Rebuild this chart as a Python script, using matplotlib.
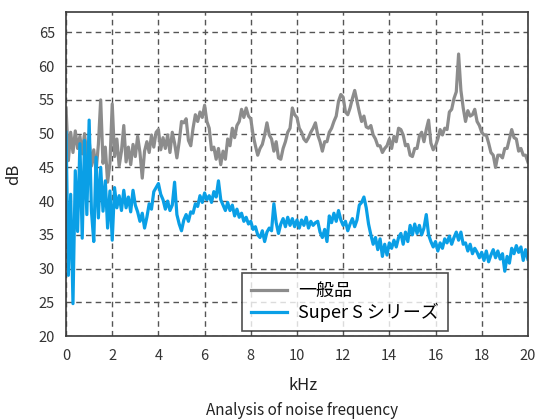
import matplotlib
matplotlib.use("Agg")
import matplotlib.pyplot as plt
import numpy as np

plt.rcParams['font.family'] = ['Noto Sans CJK JP', 'DejaVu Sans']

# 周波数 (kHz), 0.1 kHz 刻み
freq = np.round(np.arange(0, 20.01, 0.1), 1)

# 一般品 (dB)
general = [
    53.8, 46.0, 50.2, 47.2, 50.4, 47.8, 49.6, 47.0, 50.0, 46.8,
    49.0, 45.2, 47.6, 44.4, 48.4, 55.0, 45.6, 48.0, 42.8, 45.6,
    54.4, 46.6, 49.2, 45.2, 47.4, 51.2, 45.8, 48.0, 45.4, 48.4,
    46.6, 49.6, 47.2, 43.4, 47.4, 48.8, 47.2, 49.8, 48.0, 50.2,
    50.6, 47.6, 49.4, 47.8, 49.8, 47.2, 50.2, 48.6, 46.4, 48.8,
    51.8, 51.6, 52.2, 49.0, 48.2, 50.8, 52.8, 51.8, 53.2, 52.4,
    54.2, 51.8, 50.8, 47.6, 48.0, 46.2, 47.8, 45.4, 47.4, 46.2,
    49.2, 48.2, 50.8, 49.4, 51.2, 51.8, 53.6, 52.4, 53.8, 52.6,
    52.2, 49.8, 48.2, 46.8, 47.8, 48.4, 49.8, 51.6, 49.8, 49.2,
    47.4, 48.8, 46.4, 46.2, 47.8, 48.8, 50.2, 50.8, 53.8, 52.8,
    52.4, 50.8, 50.2, 49.2, 48.8, 49.4, 50.2, 50.8, 51.6, 49.8,
    48.8, 47.4, 48.8, 48.8, 50.2, 50.8, 51.8, 52.6, 54.8, 55.8,
    55.4, 53.2, 52.8, 53.8, 55.2, 56.4, 54.8, 53.2, 51.8, 52.6,
    51.0, 50.8, 51.2, 49.8, 49.2, 48.2, 48.2, 47.2, 47.8, 48.2,
    49.2, 47.8, 49.6, 48.8, 50.8, 50.6, 49.8, 48.2, 48.4, 46.8,
    46.6, 47.8, 47.8, 49.6, 50.2, 48.8, 50.6, 52.0, 48.6, 47.6,
    48.2, 49.2, 50.6, 49.8, 50.8, 50.6, 53.2, 53.6, 55.2, 56.2,
    61.8, 56.4, 53.8, 51.8, 53.4, 52.6, 52.8, 53.6, 51.8, 51.2,
    50.2, 49.8, 49.8, 48.6, 47.2, 46.8, 45.0, 46.8, 46.8, 46.4,
    47.8, 47.8, 49.2, 50.6, 49.4, 49.2, 47.4, 47.8, 46.8, 46.8,
    45.8,
]

# Super S シリーズ (dB)
super_s = [
    50.2, 29.0, 41.0, 24.8, 44.5, 35.5, 48.5, 34.5, 49.0, 38.0,
    52.0, 38.5, 34.0, 46.5, 37.5, 45.0, 38.5, 43.0, 36.0, 41.5,
    34.2, 42.0, 39.0, 40.8, 38.6, 41.6, 39.0, 40.6, 38.4, 41.6,
    39.4, 38.4, 37.0, 38.2, 36.0, 37.6, 39.6, 38.8, 41.4, 42.0,
    42.6, 41.0, 40.2, 38.8, 40.0, 38.6, 39.4, 42.8, 38.0, 36.6,
    35.6, 37.2, 38.0, 37.0, 38.4, 38.2, 39.6, 39.2, 40.8, 39.8,
    41.2, 40.2, 40.8, 39.8, 41.4, 40.6, 43.0, 40.2, 39.4, 38.6,
    39.8, 38.6, 39.4, 37.8, 38.8, 37.6, 38.2, 37.0, 37.6, 36.6,
    37.0, 35.8, 36.2, 35.0, 34.6, 35.6, 34.0, 35.4, 36.0, 35.6,
    39.6, 36.8, 35.2, 36.6, 37.4, 36.2, 37.6, 36.4, 37.4, 36.2,
    37.2, 36.0, 37.2, 36.4, 37.6, 36.0, 37.0, 36.4, 36.8, 37.0,
    35.4, 34.6, 35.8, 34.0, 37.8, 36.8, 38.2, 37.0, 38.6, 37.2,
    36.4, 37.0, 35.6, 36.6, 37.4, 36.2, 37.2, 39.4, 39.8, 40.6,
    39.0, 36.6, 35.0, 33.6, 34.6, 32.8, 34.4, 31.8, 33.6, 32.0,
    33.8, 33.0, 34.2, 33.2, 34.6, 35.2, 33.6, 35.4, 34.0, 36.4,
    35.0, 36.6, 35.2, 36.4, 35.0, 36.0, 38.0, 35.0, 34.0, 33.2,
    34.0, 32.6, 33.8, 33.0, 34.4, 33.8, 34.8, 33.6, 34.6, 35.4,
    34.2, 35.4, 33.6, 33.8, 32.6, 33.6, 32.2, 33.0, 32.4, 31.6,
    32.4, 31.2, 32.6, 31.0, 32.0, 32.8, 31.6, 32.6, 31.4, 32.2,
    29.6, 31.8, 30.8, 33.0, 32.2, 33.4, 32.4, 33.2, 31.2, 32.8,
    31.4,
]

x_ticks = [0, 2, 4, 6, 8, 10, 12, 14, 16, 18, 20]
y_ticks = [20, 25, 30, 35, 40, 45, 50, 55, 60, 65]

fig = plt.figure(figsize=(5.37, 4.2), dpi=100)
ax = fig.add_axes([0.123, 0.2, 0.86, 0.771])

ax.plot(freq, general, color='#8c8c8c', lw=2.3, label='一般品')
ax.plot(freq, super_s, color='#0a9fe6', lw=2.3, label='Super S シリーズ')

ax.set_xlim(0, 20)
ax.set_ylim(20, 68)
ax.set_xticks(x_ticks)
ax.set_yticks(y_ticks)
ax.tick_params(length=0, labelsize=10.5, colors='#333333')
ax.tick_params(axis='x', pad=9)
ax.tick_params(axis='y', pad=8)

ax.grid(True, color='#555555', ls=(0, (4, 3)), lw=1.0)
ax.set_axisbelow(True)
for s in ax.spines.values():
    s.set_color('#3a3a3a')
    s.set_linewidth(1.2)

ax.set_xlabel('kHz', fontsize=12, color='#222222')
ax.xaxis.set_label_coords(0.513, -0.128)
ax.set_ylabel('dB', fontsize=12, color='#222222')
ax.yaxis.set_label_coords(-0.095, 0.5)

leg = ax.legend(loc='lower right', bbox_to_anchor=(0.827, 0.015), fontsize=13,
                frameon=True, fancybox=False, handlelength=2.0, borderpad=0.5,
                labelspacing=0.15, borderaxespad=0, handletextpad=0.6)
leg.get_frame().set_edgecolor('#222222')
leg.get_frame().set_linewidth(1.2)

fig.text(0.562, 0.002, 'Analysis of noise frequency', ha='center', va='bottom',
         fontsize=11, color='#222222')

fig.savefig('out.png', dpi=100)
